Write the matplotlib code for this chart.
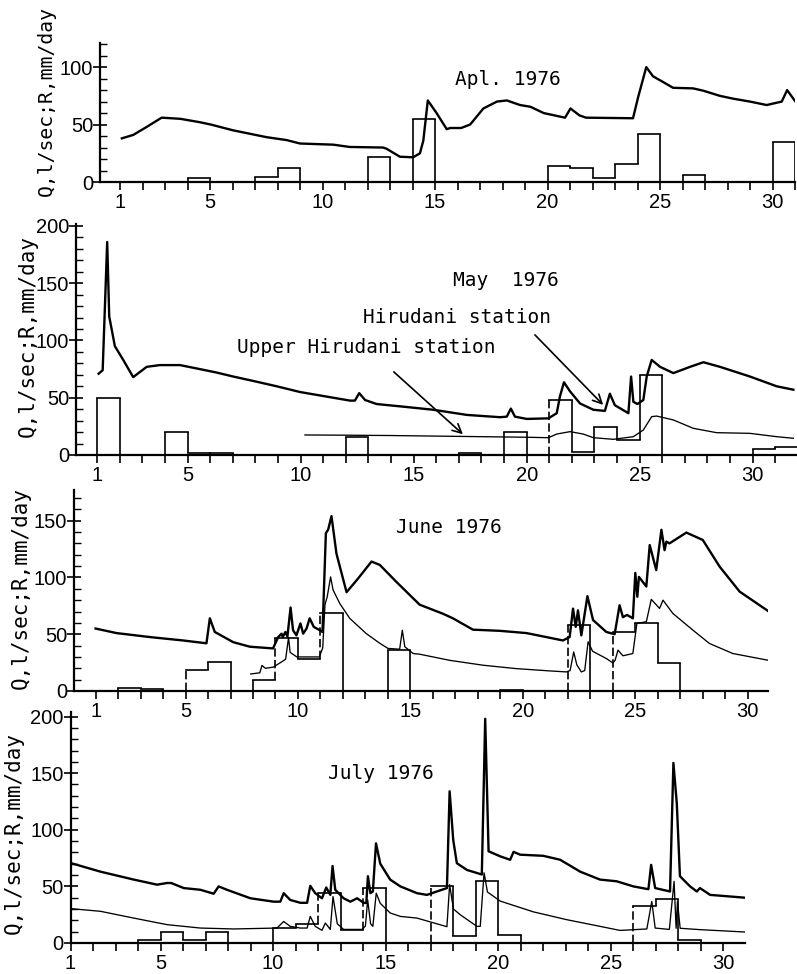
import matplotlib
matplotlib.use("Agg")
import matplotlib.pyplot as plt
from matplotlib.ticker import FixedLocator, MultipleLocator, NullFormatter

# ---------------- data: discharge Q (l/sec) and daily rainfall R (mm/day) ----------------
# April 1976 - Hirudani station
q_apr_day = [1.08, 1.59, 2.19, 2.85, 3.68, 4.56, 5.04, 6.02, 7.52, 8.40, 9.0, 10.48, 11.21,
             12.69, 12.84, 13.44, 14.03, 14.33, 14.48, 14.68, 15.07, 15.52, 15.67, 16.16,
             16.56, 17.15, 17.75, 18.19, 18.78, 19.24, 19.83, 20.78, 21.02, 21.42, 21.71,
             23.8, 24.03, 24.39, 24.69, 25.14, 25.58, 26.47, 26.92, 27.66, 28.26, 29.0,
             29.74, 30.41, 30.65, 31.0]
q_apr_val = [38, 41, 48, 56, 55, 52, 50, 45, 39, 36.5, 33.5, 32.5, 30.5,
             30, 29, 22, 21.5, 25, 36, 71, 60, 46, 47, 47,
             50, 64, 70, 71, 67, 65.5, 60, 56, 64, 58, 56,
             55.5, 74, 100, 92, 87, 82, 81.5, 79.5, 75, 72.5, 70,
             67, 70, 80, 70.5]
r_apr_day = [4, 7, 8, 12, 14, 20, 21, 22, 23, 24, 26, 30]
r_apr_val = [3.8, 4.3, 12.5, 21.4, 54.5, 14.2, 11.9, 3.8, 15.4, 41.4, 6, 34.5]

# May 1976 - Hirudani and Upper Hirudani stations
q_may_day = [1.06, 1.24, 1.44, 1.53, 1.78, 2.15, 2.59, 3.19, 3.77, 4.66, 5.54, 6.28, 7.02,
             8.05, 8.94, 9.97, 11.0, 12.18, 12.4, 12.59, 12.85, 13.36, 14.39, 15.87, 17.35,
             18.82, 19.12, 19.3, 19.48, 20.0, 20.96, 21.33, 21.47, 21.65, 21.92, 22.36,
             22.95, 23.46, 23.68, 23.9, 24.5, 24.62, 24.72, 24.9, 25.16, 25.31, 25.53,
             25.9, 26.49, 27.23, 27.82, 28.55, 29.88, 31.06, 31.8]
q_may_val = [71, 74, 186, 121, 95, 83, 68, 77, 78.5, 78.5, 75, 72, 68.5,
             64, 60, 55, 51.5, 47.5, 47.5, 54, 48, 44.5, 42.5, 39.5, 35,
             33, 33.5, 40.5, 33.5, 31.5, 32, 36.5, 51, 63.5, 55.5, 45,
             39.5, 38.5, 53.5, 43.5, 36.5, 68.5, 46.5, 44.5, 48, 68.5, 83,
             77, 71.5, 77, 81, 77, 68.5, 60, 57]
qu_may_day = [10.19, 12.0, 14.0, 16.0, 18.0, 20.0, 20.96, 21.33, 21.92, 22.5, 22.95, 23.84,
              24.72, 25.16, 25.53, 25.75, 26.49, 27.37, 28.4, 29.88, 31.06, 31.8]
qu_may_val = [17.5, 17.3, 17, 16.5, 16, 15.5, 15.1, 18.3, 20.4, 18.3, 15.1, 13.7,
              16, 21.8, 33.5, 34, 30.6, 23.3, 19.5, 18.9, 16, 14.6]
r_may_day = [1, 4, 5, 6, 12, 17, 19, 21, 22, 23, 24, 25, 30, 31]
r_may_val = [50, 20.4, 1.5, 1.5, 15.4, 1.5, 20.4, 48, 2.9, 24.2, 13.1, 69.9, 5, 7.3]

# June 1976
q_jun_day = [1.0, 1.93, 3.41, 4.89, 5.93, 6.08, 6.3, 7.12, 7.86, 8.89, 9.12, 9.27, 9.32, 9.44,
             9.53, 9.67, 9.78, 9.93, 10.11, 10.23, 10.38, 10.52, 10.7, 10.97, 11.09, 11.24,
             11.34, 11.49, 11.71, 12.16, 12.67, 13.27, 13.64, 14.38, 15.41, 16.45, 16.89,
             17.78, 18.97, 20.16, 21.04, 21.78, 22.08, 22.23, 22.35, 22.45, 22.6, 22.87,
             23.12, 23.71, 24.08, 24.3, 24.45, 24.63, 24.89, 25.0, 25.09, 25.16, 25.49,
             25.64, 25.93, 26.16, 26.3, 26.38, 26.52, 27.27, 28.0, 28.75, 29.64, 30.9]
q_jun_val = [55, 51, 47.5, 44.5, 42, 64, 52, 43, 39, 37.5, 47.5, 50.5, 47.5, 52,
             48, 73.5, 53.5, 49, 59.5, 50.5, 55, 64, 56.5, 53.5, 52, 139,
             142, 154, 121, 87, 99, 114, 111, 96, 76, 68, 64,
             54, 53, 51, 47.5, 44.5, 47.5, 72.5, 56.5, 71, 49, 83.5,
             62.5, 52, 50, 75.5, 65, 67, 64, 104, 83, 100.5, 92,
             128.5, 106.5, 142, 124, 131.5, 130, 139.5, 133, 109.5, 87.5, 70.5]
qu_jun_day = [7.9, 8.3, 8.4, 8.55, 8.9, 9.3, 9.45, 9.58, 9.65, 9.95, 10.95, 11.1, 11.2, 11.3,
              11.45, 11.56, 11.86, 12.3, 13.04, 13.64, 14.0, 14.52, 14.64, 14.75, 15.12,
              15.41, 16.75, 18.23, 19.71, 21.19, 21.93, 22.1, 22.26, 22.4, 22.6, 22.75,
              22.9, 23.1, 23.71, 24.0, 24.1, 24.23, 24.45, 24.89, 24.97, 25.07, 25.49,
              25.71, 26.08, 26.23, 26.67, 27.56, 28.3, 29.34, 30.9]
qu_jun_val = [15, 16, 22.5, 20, 21, 26, 28, 47, 34, 30, 30, 38, 76, 83,
              100.5, 89, 77, 64, 50.5, 42, 37.5, 36.8, 53.5, 39, 33,
              32.4, 27, 22.7, 19.7, 17.7, 16.8, 18, 34.4, 23, 16.8, 18,
              43.3, 35, 28.6, 24.7, 27, 36, 31, 33, 44.7, 59.5, 61,
              80.7, 72.7, 80, 68.3, 53.6, 41.8, 33, 27.1]
r_jun_day = [2, 3, 5, 6, 8, 9, 10, 11, 14, 19, 22, 24, 25, 26]
r_jun_val = [3, 2.1, 18.3, 25.6, 9.4, 47, 28.3, 68.8, 36, 1.2, 58.5, 52, 60, 24.7]

# July 1976
q_jul_day = [1.03, 2.33, 3.81, 4.85, 5.29, 5.47, 6.03, 6.77, 7.36, 7.58, 7.95, 8.99, 10.02,
             10.32, 10.47, 10.76, 11.21, 11.51, 11.65, 11.87, 12.17, 12.36, 12.54, 12.64,
             12.76, 13.13, 13.43, 13.73, 14.02, 14.14, 14.21, 14.32, 14.43, 14.57, 14.76,
             15.2, 15.65, 16.39, 16.83, 17.72, 17.84, 18.0, 18.16, 18.61, 19.27, 19.42,
             19.57, 20.09, 20.53, 20.68, 20.97, 22.0, 22.75, 23.64, 24.52, 25.26, 26.0,
             26.67, 26.79, 26.97, 27.63, 27.78, 27.93, 28.07, 28.52, 28.82, 28.96, 29.41,
             30.96]
q_jul_val = [70.5, 63, 56, 51.5, 53, 53, 48.5, 47, 43.5, 50, 47, 39.5, 36.5,
             36.5, 44, 38, 35.5, 35.5, 50.5, 44, 39.5, 49, 42.5, 68,
             47, 39.5, 36.5, 39.5, 35.5, 35.3, 59, 44, 45.5, 88, 70,
             56, 50, 44, 42.5, 48.5, 134, 91, 70.5, 64.5, 60.5, 198,
             81, 76.5, 73.5, 80.5, 78, 77, 73.5, 63, 56, 54.5, 50,
             47.5, 69, 48.5, 45.5, 159, 123.5, 59, 50, 45.5, 48.5, 42.5,
             40]
qu_jul_day = [1.03, 2.33, 3.81, 5.29, 6.77, 8.25, 10.17, 10.47, 10.76, 11.21, 11.51, 11.65,
              11.87, 12.17, 12.32, 12.54, 12.66, 12.85, 13.13, 13.95, 14.1, 14.2, 14.33,
              14.43, 14.58, 14.76, 15.2, 15.65, 16.39, 17.72, 17.84, 18.01, 18.31, 19.05,
              19.2, 19.37, 19.52, 20.09, 21.56, 23.04, 24.52, 25.41, 26.6, 26.82, 26.97,
              27.6, 27.81, 27.9, 27.96, 28.08, 28.96, 30.96]
qu_jul_val = [30.3, 28, 22, 16.2, 13.2, 12.4, 13.2, 19, 14.7, 13.2, 13.2, 23.5,
              14.7, 11.2, 17.6, 12, 41, 17, 12, 12, 15, 38, 17,
              14.7, 44, 35, 26.5, 23.5, 22, 14.4, 51.5, 30, 25, 14.7,
              14.7, 62, 45, 37, 27.5, 20.6, 14.7, 11.1, 12.4, 36.7, 13.2,
              12, 54.4, 13, 36.7, 13, 11.8, 9.7]
r_jul_day = [4, 5, 6, 7, 10, 11, 12, 13, 14, 17, 18, 19, 20, 26, 27, 28]
r_jul_val = [2.9, 9.7, 2.9, 9.7, 13.2, 17, 44, 11.5, 48.5, 50, 5.9, 54.4, 7.3, 33, 38.8, 2.9]

# day boundaries where the rainfall outline is drawn broken
r_may_dashed = [21]
r_jun_dashed = [5, 9, 11, 22, 24]
r_jul_dashed = [12, 14, 17, 26]

titles = ["Apl. 1976", "May  1976", "June 1976", "July 1976"]
ylabel = "Q,l/sec;R,mm/day"
xtick_days = [1, 5, 10, 15, 20, 25, 30]

# ---------------- figure layout (pixel geometry) ----------------
W, H = 797, 974
fig = plt.figure(figsize=(W / 100, H / 100), dpi=100)
fig.patch.set_facecolor("white")

MONO = ["DejaVu Sans Mono"]
TICKFONT = ["Liberation Sans", "DejaVu Sans"]


def px_axes(left, right, top, bottom):
    return fig.add_axes([left / W, (H - bottom) / H, (right - left) / W, (bottom - top) / H])


def draw_rain(ax, days, vals, dashed=()):
    r = dict(zip(days, vals))
    for d, v in r.items():
        ax.hlines(v, d, d + 1, color="black", lw=1.2, capstyle="projecting")
    edges = sorted(set(days) | {d + 1 for d in days})
    for e in edges:
        a, b = r.get(e - 1, 0), r.get(e, 0)
        lo, hi = min(a, b), max(a, b)
        if hi > lo:
            ls = (0, (5, 2)) if e in dashed else "solid"
            ax.vlines(e, lo, hi, color="black", lw=1.2, linestyles=ls)


def style_axis(ax, xlim, ylim, ymajor):
    ax.set_xlim(*xlim)
    ax.set_ylim(*ylim)
    for s in ("top", "right"):
        ax.spines[s].set_visible(False)
    for s in ("left", "bottom"):
        ax.spines[s].set_linewidth(1.6)
    ax.patch.set_alpha(0)
    lo = int(xlim[0]) + (1 if xlim[0] > int(xlim[0]) + 0.01 else 0)
    days = [d for d in range(max(lo, 1), int(xlim[1] + 0.05) + 1)]
    ax.xaxis.set_major_locator(FixedLocator(xtick_days))
    ax.xaxis.set_minor_locator(FixedLocator([d for d in days if d not in xtick_days]))
    ax.xaxis.set_minor_formatter(NullFormatter())
    ax.set_xticklabels([str(d) for d in xtick_days], fontfamily=TICKFONT, fontsize=14.5)
    ax.tick_params(axis="x", which="both", direction="out", length=6, width=1.2, pad=2)
    ax.yaxis.set_major_locator(FixedLocator(ymajor))
    ax.yaxis.set_minor_locator(MultipleLocator(10))
    ax.set_yticklabels([str(v) for v in ymajor], fontfamily=TICKFONT, fontsize=14.5)
    ax.tick_params(axis="y", which="major", direction="inout", length=10, width=1.2, pad=0)
    ax.tick_params(axis="y", which="minor", direction="in", length=5, width=1.0)


THICK, THIN = 1.7, 0.95

# ---- April ----
ax1 = px_axes(100, 795, 43, 182)
style_axis(ax1, (0.11, 31.0), (0, 121), [0, 50, 100])
ax1.plot(q_apr_day, q_apr_val, color="black", lw=THICK)
draw_rain(ax1, r_apr_day, r_apr_val)
ax1.text(15.89, 89, titles[0], fontfamily=MONO, fontsize=14, ha="left", va="center")

# ---- May ----
ax2 = px_axes(76, 797, 224, 455)
style_axis(ax2, (0.06, 31.96), (0, 201.7), [0, 50, 100, 150, 200])
ax2.plot(q_may_day, q_may_val, color="black", lw=THICK)
ax2.plot(qu_may_day, qu_may_val, color="black", lw=THIN)
draw_rain(ax2, r_may_day, r_may_val, r_may_dashed)
ax2.text(16.74, 152.8, titles[1], fontfamily=MONO, fontsize=14, ha="left", va="center")
ax2.text(12.76, 119.7, "Hirudani station", fontfamily=MONO, fontsize=14, ha="left", va="center")
ax2.text(7.18, 94.3, "Upper Hirudani station", fontfamily=MONO, fontsize=14, ha="left", va="center")
ax2.annotate("", xy=(23.47, 42), xytext=(20.28, 106.6),
             arrowprops=dict(arrowstyle="->", lw=1.2, color="black", mutation_scale=16))
ax2.annotate("", xy=(17.27, 16.5), xytext=(14.03, 74.2),
             arrowprops=dict(arrowstyle="->", lw=1.2, color="black", mutation_scale=16))

# ---- June ----
ax3 = px_axes(74, 768, 490, 691)
style_axis(ax3, (0.04, 30.9), (0, 177), [0, 50, 100, 150])
ax3.plot(q_jun_day, q_jun_val, color="black", lw=THICK)
ax3.plot(qu_jun_day, qu_jun_val, color="black", lw=THIN)
draw_rain(ax3, r_jun_day, r_jun_val, r_jun_dashed)
ax3.text(14.35, 143.6, titles[2], fontfamily=MONO, fontsize=14, ha="left", va="center")

# ---- July ----
ax4 = px_axes(70.5, 745, 712, 943)
style_axis(ax4, (1.0, 30.96), (0, 204), [0, 50, 100, 150, 200])
ax4.plot(q_jul_day, q_jul_val, color="black", lw=THICK)
ax4.plot(qu_jul_day, qu_jul_val, color="black", lw=THIN)
draw_rain(ax4, r_jul_day, r_jul_val, r_jul_dashed)
ax4.text(12.45, 150, titles[3], fontfamily=MONO, fontsize=14, ha="left", va="center")

# ---- rotated axis labels ----
for (x, y, fs) in [(46, 101, 14.2), (28, 336, 15), (21, 588, 15), (14, 833, 15)]:
    fig.text(x / W, 1 - y / H, ylabel, rotation=90, ha="center", va="center",
             fontfamily=MONO, fontsize=fs)

fig.savefig("out.png", dpi=100)
